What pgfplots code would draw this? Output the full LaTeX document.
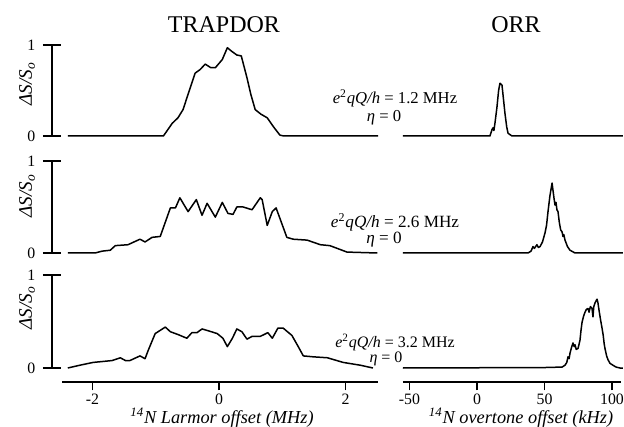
\documentclass[border=0pt]{standalone}
\usepackage{fontspec}
\setmainfont{Liberation Serif}
\usepackage{pgfplots}
\pgfplotsset{compat=1.18}
\pgfplotsset{
  panel/.style={anchor=south west, ymin=0, ymax=1, clip=false,
    tick style={line width=0.8pt, black},
    tick label style={font=\fontsize{9.5}{11}\selectfont}},
  leftpanel/.style={panel, x=37.98pt, xmin=-2.64, xmax=2.6,
    axis x line=none, axis y line=left,
    y axis line style={-, line width=0.8pt, black},
    every outer y axis line/.append style={-},
    every inner y axis line/.append style={-},
    ytick={0,1}, yticklabels={0,1}, tick align=center, major tick length=11pt,
    yticklabel style={anchor=east, xshift=-1pt}},
  rightpanel/.style={panel, x=0.81pt, xmin=-55, xmax=107, hide axis},
  curve/.style={black, line width=0.9pt, line join=round},
  xbase/.style={anchor=south west, y=10pt, ymin=0, ymax=1,
    axis y line=none, axis x line=bottom,
    x axis line style={-, line width=0.8pt, black},
    every outer x axis line/.append style={-},
    every inner x axis line/.append style={-},
    tick style={line width=0.8pt, black},
    tick align=outside, major tick length=5pt,
    xticklabel style={font=\fontsize{9.5}{11}\selectfont, inner sep=1pt, yshift=-1pt}},
}
\newcommand{\ann}[1]{{\itshape e}\textsuperscript{2}{\itshape qQ/h} = #1 MHz}
\begin{document}
\begin{tikzpicture}
% ---------- top row ----------
\begin{axis}[leftpanel, at={(31.2pt,-81.6pt)}, y=54.6pt]
\addplot[curve] coordinates {(-2.39,0) (-0.88,0) (-0.8,0.08) (-0.74,0.14) (-0.65,0.2) (-0.57,0.29) (-0.48,0.48) (-0.38,0.69) (-0.3,0.73) (-0.22,0.79) (-0.13,0.75) (-0.06,0.75) (0.05,0.84) (0.13,0.97) (0.2,0.93) (0.28,0.89) (0.35,0.88) (0.44,0.64) (0.5,0.46) (0.57,0.29) (0.66,0.24) (0.76,0.20) (0.86,0.1) (0.96,0.01) (1.02,0) (2.51,0)};
\end{axis}
\begin{axis}[rightpanel, at={(241.65pt,-81.6pt)}, y=54.6pt]
\addplot[curve] coordinates {(-55,0) (9.6,0) (11.1,0.07) (11.9,0.09) (12.5,0.06) (13.3,0.14) (14.8,0.32) (16,0.5) (17.0,0.58) (18.5,0.56) (19.5,0.42) (20.7,0.25) (22,0.1) (23.0,0.03) (25.9,0) (108,0)};
\end{axis}
% ---------- middle row ----------
\begin{axis}[leftpanel, at={(31.2pt,-151.8pt)}, y=55.2pt]
\addplot[curve] coordinates {(-2.39,0) (-1.96,0) (-1.85,0.02) (-1.72,0.03) (-1.64,0.08) (-1.44,0.09) (-1.25,0.15) (-1.17,0.12) (-1.06,0.17) (-0.93,0.18) (-0.77,0.49) (-0.69,0.49) (-0.62,0.60) (-0.49,0.45) (-0.36,0.58) (-0.27,0.41) (-0.19,0.54) (-0.06,0.39) (0.05,0.55) (0.14,0.43) (0.22,0.42) (0.28,0.50) (0.38,0.50) (0.52,0.47) (0.65,0.60) (0.68,0.58) (0.76,0.30) (0.84,0.45) (0.90,0.49) (1.07,0.17) (1.17,0.15) (1.39,0.14) (1.60,0.09) (1.75,0.08) (2.02,0.01) (2.50,0)};
\end{axis}
\begin{axis}[rightpanel, at={(241.65pt,-151.8pt)}, y=55.2pt]
\addplot[curve] coordinates {(-55,0) (37.8,0) (40,0.02) (41.5,0.07) (42.5,0.05) (44.4,0.09) (45.5,0.06) (46.7,0.07) (48.5,0.12) (50.4,0.22) (51.5,0.3) (52.6,0.45) (54,0.62) (55.6,0.76) (56.3,0.68) (57,0.6) (57.8,0.52) (58.5,0.55) (59.2,0.47) (60.0,0.45) (61,0.33) (62,0.25) (63,0.23) (63.7,0.18) (64.3,0.2) (65.2,0.14) (67,0.07) (68.9,0.03) (72.6,0) (108,0)};
\end{axis}
% ---------- bottom row ----------
\begin{axis}[leftpanel, at={(31.2pt,-220.8pt)}, y=55.8pt]
\addplot[curve] coordinates {(-2.39,0) (-2.2,0.03) (-1.99,0.06) (-1.69,0.08) (-1.56,0.11) (-1.48,0.08) (-1.41,0.08) (-1.25,0.13) (-1.17,0.10) (-1.12,0.19) (-1.01,0.37) (-0.85,0.44) (-0.77,0.39) (-0.65,0.36) (-0.51,0.32) (-0.43,0.38) (-0.35,0.38) (-0.27,0.42) (-0.17,0.40) (-0.03,0.37) (0.06,0.32) (0.13,0.23) (0.21,0.32) (0.28,0.42) (0.36,0.39) (0.44,0.31) (0.52,0.34) (0.65,0.34) (0.77,0.38) (0.84,0.32) (0.93,0.43) (1.01,0.43) (1.15,0.35) (1.25,0.23) (1.33,0.13) (1.49,0.12) (1.71,0.11) (1.96,0.06) (2.23,0.03) (2.43,0.00)};
\end{axis}
\begin{axis}[rightpanel, at={(241.65pt,-220.8pt)}, y=55.8pt]
\addplot[curve] coordinates {(-55,0) (50,0.005) (63,0.01) (65.2,0.03) (66.5,0.06) (67.4,0.12) (68.2,0.1) (68.9,0.16) (70,0.22) (71.1,0.27) (72,0.23) (72.6,0.25) (73.5,0.2) (74.8,0.21) (75.5,0.25) (76.3,0.30) (77,0.4) (77.8,0.49) (79,0.56) (80.0,0.60) (81,0.63) (82.2,0.64) (83,0.6) (84,0.66) (85.2,0.64) (85.9,0.55) (86.5,0.66) (87.4,0.70) (88.9,0.74) (89.6,0.7) (90.4,0.62) (91.5,0.52) (92.6,0.43) (93.5,0.35) (94.2,0.26) (94.8,0.21) (96,0.13) (97.0,0.09) (98.5,0.05) (100.7,0.03) (103,0.01) (105.9,0) (108,0)};
\end{axis}
% ---------- x axes ----------
\begin{axis}[xbase, at={(37.2pt,-229.2pt)}, x=37.98pt, xmin=-2.48, xmax=2.51,
  xtick={-2,0,2}, xticklabels={-2,0,2}]
\addplot[draw=none] coordinates {(0,0.5)};
\end{axis}
\begin{axis}[xbase, at={(241.65pt,-229.2pt)}, x=0.81pt, xmin=-55, xmax=107,
  xtick={-50,0,50,100}, xticklabels={-50,0,50,100}]
\addplot[draw=none] coordinates {(0,0.5)};
\end{axis}
% ---------- texts ----------
\node[font=\fontsize{14.4}{16}\selectfont] at (134.4pt,-15pt) {TRAPDOR};
\node[font=\fontsize{14.4}{16}\selectfont] at (309.6pt,-15pt) {ORR};
\node[rotate=90, font=\fontsize{11.5}{13}\selectfont\itshape] at (16.2pt,-50.4pt) {ΔS/S\textsubscript{o}};
\node[rotate=90, font=\fontsize{11.5}{13}\selectfont\itshape] at (16.2pt,-117.6pt) {ΔS/S\textsubscript{o}};
\node[rotate=90, font=\fontsize{11.5}{13}\selectfont\itshape] at (16.2pt,-184.8pt) {ΔS/S\textsubscript{o}};
\node[font=\fontsize{10}{12}\selectfont, inner sep=0pt] at (237pt,-58.8pt) {\ann{1.2}};
\node[font=\fontsize{10}{12}\selectfont, inner sep=0pt] at (230.4pt,-70.8pt) {{\itshape η} = 0};
\node[font=\fontsize{10.3}{12}\selectfont, inner sep=0pt] at (237pt,-133.2pt) {\ann{2.6}};
\node[font=\fontsize{10.3}{12}\selectfont, inner sep=0pt] at (230.4pt,-144pt) {{\itshape η} = 0};
\node[font=\fontsize{9.6}{11}\selectfont, inner sep=0pt] at (237pt,-205.5pt) {\ann{3.2}};
\node[font=\fontsize{9.6}{11}\selectfont, inner sep=0pt] at (231.6pt,-215.4pt) {{\itshape η} = 0};
\node[font=\fontsize{11}{13}\selectfont\itshape, inner sep=0pt] at (133.2pt,-250.6pt) {\textsuperscript{14}N Larmor offset (MHz)};
\node[font=\fontsize{11}{13}\selectfont\itshape, inner sep=0pt] at (312.6pt,-250.6pt) {\textsuperscript{14}N overtone offset (kHz)};
\pgfresetboundingbox
\path[use as bounding box] (0pt,0pt) rectangle (374.4pt,-256.2pt);
\end{tikzpicture}
\end{document}
